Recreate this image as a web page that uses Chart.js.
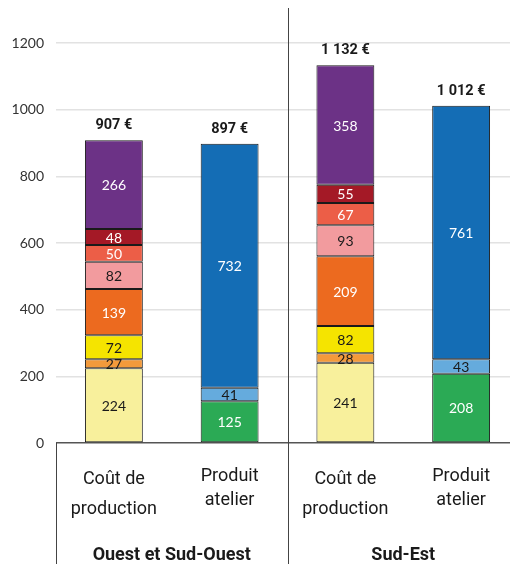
<!DOCTYPE html>
<html>
<head>
<meta charset="utf-8">
<script src="https://cdn.jsdelivr.net/npm/chart.js@4.4.1/dist/chart.umd.min.js"></script>
<style>
  html, body { margin: 0; padding: 0; background: #fff; overflow: hidden; }
  #wrap { width: 520px; height: 564px; }
</style>
</head>
<body>
<div id="wrap"><canvas id="c" width="520" height="564"></canvas></div>
<script>
// ---- Data ----
const categories = [['Coût de', 'production'], ['Produit', 'atelier'], ['Coût de', 'production'], ['Produit', 'atelier']];
const groups = ['Ouest et Sud-Ouest', 'Sud-Est'];
const totals = ['907 €', '897 €', '1 132 €', '1 012 €'];
const yTicks = [0, 200, 400, 600, 800, 1000, 1200];

const cost1 = [224, null, 241, null];
const cost2 = [27, null, 28, null];
const cost3 = [72, null, 82, null];
const cost4 = [139, null, 209, null];
const cost5 = [82, null, 93, null];
const cost6 = [50, null, 67, null];
const cost7 = [48, null, 55, null];
const cost8 = [266, null, 358, null];
const prod1 = [null, 125, null, 208];
const prod2 = [null, 41, null, 43];
const prod3 = [null, 732, null, 761];

// ---- Styles ----
const DARK = '#1a1a1a';
const WHITE = '#ffffff';
const seriesDefs = [
  { data: cost1, color: '#F8F09C', text: DARK },
  { data: cost2, color: '#F39A3B', text: DARK },
  { data: cost3, color: '#F5E400', text: DARK },
  { data: cost4, color: '#EC6A1F', text: WHITE },
  { data: cost5, color: '#F29B9E', text: DARK },
  { data: cost6, color: '#EC5E47', text: WHITE },
  { data: cost7, color: '#A41926', text: WHITE },
  { data: cost8, color: '#6C3286', text: WHITE },
  { data: prod1, color: '#2BAA55', text: WHITE },
  { data: prod2, color: '#65ABDD', text: DARK },
  { data: prod3, color: '#146DB5', text: WHITE }
];

const CAT_FONT = "Roboto, 'DejaVu Sans Condensed', sans-serif";
const LIGHT = "Lato, 'Open Sans', sans-serif";

const datasets = seriesDefs.map((s, i) => ({
  label: 's' + i,
  data: s.data,
  backgroundColor: s.color,
  borderColor: DARK,
  borderWidth: 1,
  borderSkipped: false,
  textColor: s.text
}));

const labelsPlugin = {
  id: 'labelsPlugin',
  afterDatasetsDraw(chart) {
    const ctx = chart.ctx;
    ctx.save();
    ctx.textAlign = 'center';
    ctx.font = '14px ' + LIGHT;
    ctx.textBaseline = 'middle';
    chart.data.datasets.forEach((ds, di) => {
      const meta = chart.getDatasetMeta(di);
      meta.data.forEach((el, i) => {
        const v = ds.data[i];
        if (v === null || v === undefined) return;
        ctx.fillStyle = ds.textColor;
        ctx.fillText(String(v), el.x, (el.y + el.base) / 2 + 1);
      });
    });
    ctx.font = 'bold 14.5px ' + CAT_FONT;
    ctx.textBaseline = 'alphabetic';
    ctx.fillStyle = DARK;
    totals.forEach((t, i) => {
      let top = Infinity, x = null;
      chart.data.datasets.forEach((ds, di) => {
        const v = ds.data[i];
        if (v === null || v === undefined) return;
        const el = chart.getDatasetMeta(di).data[i];
        if (el.y < top) { top = el.y; x = el.x; }
      });
      if (x !== null) ctx.fillText(t, x, top - 11);
    });
    ctx.restore();
  },
  afterDraw(chart) {
    const ctx = chart.ctx;
    const xs = chart.scales.x;
    const area = chart.chartArea;
    const mid = (xs.getPixelForValue(1) + xs.getPixelForValue(2)) / 2;
    ctx.save();
    ctx.strokeStyle = '#444';
    ctx.lineWidth = 1;
    ctx.beginPath();
    ctx.moveTo(Math.round(area.left) + 0.5, area.bottom);
    ctx.lineTo(Math.round(area.left) + 0.5, chart.height);
    ctx.moveTo(Math.round(mid) + 0.5, 8);
    ctx.lineTo(Math.round(mid) + 0.5, chart.height);
    ctx.moveTo(Math.round(area.right) + 0.5, 8);
    ctx.lineTo(Math.round(area.right) + 0.5, chart.height);
    ctx.stroke();
    ctx.restore();
  }
};

new Chart(document.getElementById('c'), {
  type: 'bar',
  data: { labels: categories, datasets },
  options: {
    responsive: false,
    animation: false,
    layout: { padding: { top: 43, right: 1, left: 0, bottom: 0 } },
    plugins: { legend: { display: false }, tooltip: { enabled: false } },
    datasets: { bar: { categoryPercentage: 1, barPercentage: 0.5 } },
    scales: {
      x: {
        stacked: true,
        afterFit(scale) { scale.height = 81; },
        grid: { display: false, drawTicks: false },
        border: { display: false },
        ticks: {
          color: DARK,
          padding: 21,
          maxRotation: 0,
          autoSkip: false,
          font: (c) => ({ family: CAT_FONT, size: 18, lineHeight: (c.index % 2 === 0) ? '30px' : '24px' })
        }
      },
      x2: {
        type: 'category',
        labels: groups,
        position: 'bottom',
        afterFit(scale) { scale.height = 40; },
        grid: { display: false, drawTicks: false },
        border: { display: false },
        ticks: {
          color: DARK,
          padding: 22,
          maxRotation: 0,
          autoSkip: false,
          font: { family: CAT_FONT, size: 18, weight: 'bold', lineHeight: '18px' }
        }
      },
      y: {
        stacked: true,
        min: 0,
        max: 1200,
        afterFit(scale) { scale.width = 56; },
        afterBuildTicks(scale) { scale.ticks = yTicks.map(v => ({ value: v })); },
        border: { display: false },
        grid: {
          drawTicks: false,
          color: (c) => (c.tick && c.tick.value === 0) ? '#555' : '#e2e2e2',
          lineWidth: 1.5
        },
        ticks: {
          color: '#333',
          padding: 12,
          font: { family: LIGHT, size: 14 },
          callback: (v) => String(v)
        }
      }
    }
  },
  plugins: [labelsPlugin]
});
</script>
</body>
</html>
